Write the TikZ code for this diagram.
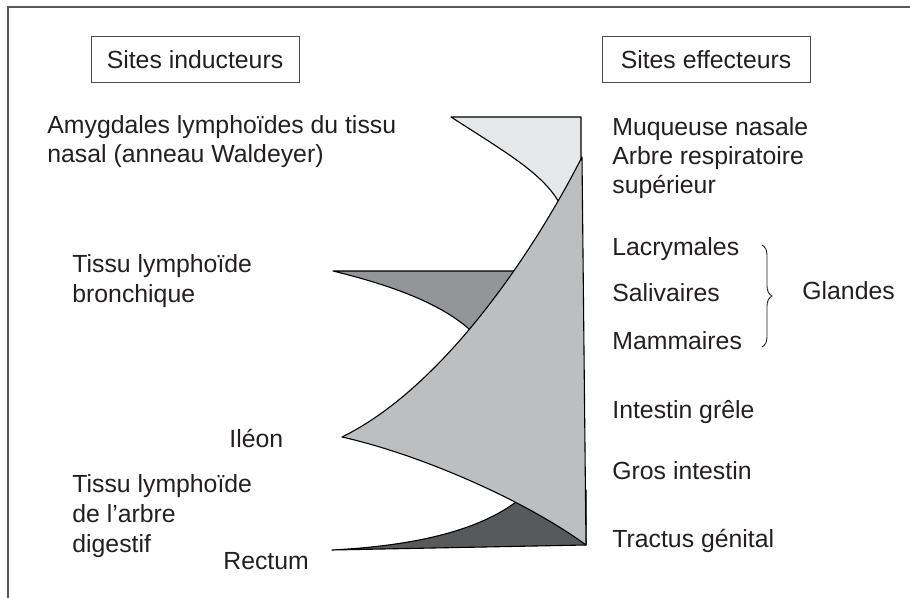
\documentclass[tikz,border=0pt]{standalone}
\usepackage{fontspec}
\setmainfont{Liberation Sans}
\usetikzlibrary{decorations.pathreplacing}
\definecolor{txt}{HTML}{231F20}
\definecolor{shlight}{HTML}{E6E7E8}
\definecolor{shmed}{HTML}{BCBEC0}
\definecolor{shdark}{HTML}{939598}
\definecolor{shdarkest}{HTML}{58595B}
\begin{document}
\begin{tikzpicture}[x=0.5pt,y=-0.5pt,
  lbl/.style={anchor=base west,inner sep=0pt,text=txt,font=\fontsize{12.4}{14.8}\selectfont},
  hdr/.style={draw=gray!60!black,line width=0.5pt,inner sep=0pt,minimum width=104pt,minimum height=23pt,text=txt,font=\fontsize{12.4}{14.8}\selectfont},
  shp/.style={draw=black,line width=0.55pt,line join=round}]
\useasboundingbox (0,0) rectangle (910,598);
% frame
\draw[gray!70!black,line width=1pt] (8,598) -- (8,7) -- (910,7);
% headers
\node[hdr] (ind) at (195,60) {Sites inducteurs};
\node[hdr] (eff) at (706,60) {Sites effecteurs};
% shapes
\coordinate (A) at (451,117);
\coordinate (B) at (581,117);
\coordinate (T) at (582,157);
\coordinate (L) at (342,437);
\coordinate (R) at (586,545);
\coordinate (D) at (333,271);
\coordinate (E) at (332,550);
\filldraw[shp,fill=shlight] (A) -- (B) -- (581,206) -- (561,206) .. controls (545,175) and (510,155) .. (A) -- cycle;
\filldraw[shp,fill=shdark] (D) -- (560,271) -- (480,340) .. controls (450,305) and (390,285) .. (D) -- cycle;
\filldraw[shp,fill=shdarkest] (E) .. controls (430,545) and (495,525) .. (530,490) -- (586,490) -- (R) -- cycle;
\filldraw[shp,fill=shmed] (T) .. controls (532,255) and (442,388) .. (L)
  .. controls (422,455) and (526,501) .. (R) -- cycle;
% left labels
\node[lbl] (amy1) at (47,134) {Amygdales lymphoïdes du tissu};
\node[lbl] (amy2) at (47,163) {nasal (anneau Waldeyer)};
\node[lbl] (bro1) at (72,273) {Tissu lymphoïde};
\node[lbl] (bro2) at (72,303) {bronchique};
\node[lbl] (ile) at (229,448) {Iléon};
\node[lbl] (dig1) at (72,492) {Tissu lymphoïde};
\node[lbl] (dig2) at (72,522) {de l’arbre};
\node[lbl] (dig3) at (72,552) {digestif};
\node[lbl] (rec) at (223,569) {Rectum};
% right labels
\node[lbl] (muq) at (612,136) {Muqueuse nasale};
\node[lbl] (arb) at (612,165) {Arbre respiratoire};
\node[lbl] (sup) at (612,194) {supérieur};
\node[lbl] (lac) at (612,256) {Lacrymales};
\node[lbl] (sal) at (612,302) {Salivaires};
\node[lbl] (mam) at (612,350) {Mammaires};
\node[lbl] (gla) at (802,300) {Glandes};
\node[lbl] (int) at (612,419) {Intestin grêle};
\node[lbl] (gro) at (612,480) {Gros intestin};
\node[lbl] (tra) at (612,547) {Tractus génital};
% brace
\coordinate (bt) at (762,245);
\coordinate (bb) at (762,347);
\draw[txt,line width=0.45pt,decorate,decoration={brace,amplitude=5}] (bt) -- (bb);
\end{tikzpicture}
\end{document}
